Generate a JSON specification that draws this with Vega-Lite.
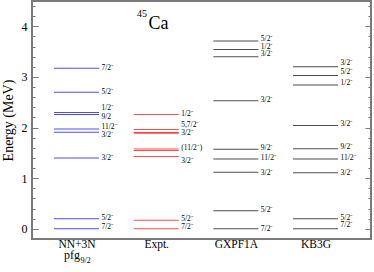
{
  "$schema": "https://vega.github.io/schema/vega-lite/v6.json",
  "width": 339,
  "height": 238,
  "autosize": "none",
  "padding": {"left": 32, "top": 1, "right": 3, "bottom": 33},
  "background": "white",
  "config": {
    "view": {"stroke": "#7a7a7a", "strokeWidth": 2},
    "axis": {"grid": false, "domain": false, "tickColor": "#7a7a7a", "tickWidth": 1, "labelFont": "Liberation Serif", "titleFont": "Liberation Serif", "labelColor": "#000000", "titleColor": "#000000", "titleFontWeight": "normal"},
    "text": {"font": "Liberation Serif"}
  },
  "datasets": {
    "levels": [
      {"col": 1, "model": "NN+3N", "E": 3.17},
      {"col": 1, "model": "NN+3N", "E": 2.70},
      {"col": 1, "model": "NN+3N", "E": 2.30},
      {"col": 1, "model": "NN+3N", "E": 2.26},
      {"col": 1, "model": "NN+3N", "E": 1.97},
      {"col": 1, "model": "NN+3N", "E": 1.91},
      {"col": 1, "model": "NN+3N", "E": 1.40},
      {"col": 1, "model": "NN+3N", "E": 0.20},
      {"col": 1, "model": "NN+3N", "E": 0.0},
      {"col": 2, "model": "Expt.", "E": 2.26},
      {"col": 2, "model": "Expt.", "E": 1.96},
      {"col": 2, "model": "Expt.", "E": 1.905},
      {"col": 2, "model": "Expt.", "E": 1.89},
      {"col": 2, "model": "Expt.", "E": 1.575},
      {"col": 2, "model": "Expt.", "E": 1.55},
      {"col": 2, "model": "Expt.", "E": 1.43},
      {"col": 2, "model": "Expt.", "E": 0.17},
      {"col": 2, "model": "Expt.", "E": 0.0},
      {"col": 3, "model": "GXPF1A", "E": 3.71},
      {"col": 3, "model": "GXPF1A", "E": 3.54},
      {"col": 3, "model": "GXPF1A", "E": 3.40},
      {"col": 3, "model": "GXPF1A", "E": 2.53},
      {"col": 3, "model": "GXPF1A", "E": 1.57},
      {"col": 3, "model": "GXPF1A", "E": 1.38},
      {"col": 3, "model": "GXPF1A", "E": 1.12},
      {"col": 3, "model": "GXPF1A", "E": 0.36},
      {"col": 3, "model": "GXPF1A", "E": 0.0},
      {"col": 4, "model": "KB3G", "E": 3.20},
      {"col": 4, "model": "KB3G", "E": 3.03},
      {"col": 4, "model": "KB3G", "E": 2.84},
      {"col": 4, "model": "KB3G", "E": 2.04},
      {"col": 4, "model": "KB3G", "E": 1.58},
      {"col": 4, "model": "KB3G", "E": 1.38},
      {"col": 4, "model": "KB3G", "E": 1.11},
      {"col": 4, "model": "KB3G", "E": 0.20},
      {"col": 4, "model": "KB3G", "E": 0.0}
    ],
    "labels": [
      {"col": 1, "E": 3.17, "text": "7/2⁻"},
      {"col": 1, "E": 2.70, "text": "5/2⁻"},
      {"col": 1, "E": 2.38, "text": "1/2⁻"},
      {"col": 1, "E": 2.21, "text": "9/2"},
      {"col": 1, "E": 2.01, "text": "11/2⁻"},
      {"col": 1, "E": 1.86, "text": "3/2⁻"},
      {"col": 1, "E": 1.40, "text": "3/2⁻"},
      {"col": 1, "E": 0.22, "text": "5/2⁻"},
      {"col": 1, "E": 0.03, "text": "7/2⁻"},
      {"col": 2, "E": 2.27, "text": "1/2⁻"},
      {"col": 2, "E": 2.05, "text": "5,7/2⁻"},
      {"col": 2, "E": 1.89, "text": "3/2⁻"},
      {"col": 2, "E": 1.59, "text": "(11/2⁻)"},
      {"col": 2, "E": 1.35, "text": "3/2⁻"},
      {"col": 2, "E": 0.20, "text": "5/2⁻"},
      {"col": 2, "E": 0.04, "text": "7/2⁻"},
      {"col": 3, "E": 3.75, "text": "5/2⁻"},
      {"col": 3, "E": 3.59, "text": "1/2⁻"},
      {"col": 3, "E": 3.45, "text": "3/2⁻"},
      {"col": 3, "E": 2.55, "text": "3/2⁻"},
      {"col": 3, "E": 1.59, "text": "9/2⁻"},
      {"col": 3, "E": 1.40, "text": "11/2⁻"},
      {"col": 3, "E": 1.11, "text": "3/2⁻"},
      {"col": 3, "E": 0.38, "text": "5/2⁻"},
      {"col": 3, "E": 0.0, "text": "7/2⁻"},
      {"col": 4, "E": 3.27, "text": "3/2⁻"},
      {"col": 4, "E": 3.10, "text": "5/2⁻"},
      {"col": 4, "E": 2.89, "text": "1/2⁻"},
      {"col": 4, "E": 2.07, "text": "3/2⁻"},
      {"col": 4, "E": 1.61, "text": "9/2⁻"},
      {"col": 4, "E": 1.40, "text": "11/2⁻"},
      {"col": 4, "E": 1.11, "text": "3/2⁻"},
      {"col": 4, "E": 0.22, "text": "5/2⁻"},
      {"col": 4, "E": 0.07, "text": "7/2⁻"}
    ],
    "notes": [
      {"col": 1.759, "E": 4.186, "text": "45", "kind": "sup"},
      {"col": 1.903, "E": 3.943, "text": "Ca", "kind": "big"},
      {"col": 0.843, "E": -0.59, "text": "pfg", "kind": "mid"},
      {"col": 1.05, "E": -0.665, "text": "9/2", "kind": "sub"}
    ]
  },
  "encoding": {
    "x": {
      "field": "col",
      "type": "quantitative",
      "scale": {"domain": [0.4414, 4.696], "nice": false, "zero": false},
      "axis": {
        "values": [1, 2, 3, 4],
        "labelExpr": "datum.value == 1 ? 'NN+3N' : datum.value == 2 ? 'Expt.' : datum.value == 3 ? 'GXPF1A' : 'KB3G'",
        "ticks": false,
        "tickSize": 0,
        "labelFont": "Liberation Serif",
        "labelFontSize": 11.5,
        "labelPadding": -1,
        "title": null
      }
    }
  },
  "layer": [
    {
      "data": {"name": "levels"},
      "mark": {"type": "tick", "orient": "horizontal", "size": 45, "thickness": 1},
      "encoding": {
        "y": {
          "field": "E", "type": "quantitative",
          "scale": {"domain": [-0.2, 4.5], "nice": false, "zero": false},
          "axis": {"orient": "left", "values": [0, 1, 2, 3, 4], "ticks": false, "tickSize": 0, "labelFont": "Liberation Serif", "labelFontSize": 12, "labelPadding": 5, "title": "Energy (MeV)", "titleFont": "Liberation Serif", "titleFontSize": 14, "titlePadding": 6}
        },
        "color": {
          "field": "model", "type": "nominal",
          "scale": {"domain": ["NN+3N", "Expt.", "GXPF1A", "KB3G"], "range": ["#0000ff", "#ff0000", "#000000", "#000000"]},
          "legend": null
        }
      }
    },
    {
      "data": {"name": "labels"},
      "mark": {"type": "text", "align": "left", "baseline": "middle", "dx": 25, "fontSize": 7.5, "font": "Liberation Serif", "color": "#000000"},
      "encoding": {
        "y": {
          "field": "E", "type": "quantitative",
          "scale": {"domain": [-0.2, 4.5], "nice": false, "zero": false},
          "axis": {"orient": "left", "values": [0, 1, 2, 3, 4], "tickSize": -6, "labels": false, "title": null}
        },
        "text": {"field": "text"}
      }
    },
    {
      "data": {"name": "notes"},
      "transform": [{"filter": "datum.kind == 'big'"}],
      "mark": {"type": "text", "align": "left", "baseline": "alphabetic", "fontSize": 18, "font": "Liberation Serif", "color": "#000000"},
      "encoding": {
        "y": {
          "field": "E", "type": "quantitative",
          "scale": {"domain": [-0.2, 4.5], "nice": false, "zero": false},
          "axis": {"orient": "left", "values": [0.2, 0.4, 0.6, 0.8, 1.2, 1.4, 1.6, 1.8, 2.2, 2.4, 2.6, 2.8, 3.2, 3.4, 3.6, 3.8, 4.2, 4.4], "tickSize": -3, "labels": false, "title": null}
        },
        "text": {"field": "text"}
      }
    },
    {
      "data": {"name": "notes"},
      "transform": [{"filter": "datum.kind == 'sup'"}],
      "mark": {"type": "text", "align": "left", "baseline": "alphabetic", "fontSize": 10, "font": "Liberation Serif", "color": "#000000"},
      "encoding": {
        "y": {
          "field": "E", "type": "quantitative",
          "scale": {"domain": [-0.2, 4.5], "nice": false, "zero": false},
          "axis": {"orient": "right", "values": [0, 1, 2, 3, 4], "tickSize": -6, "labels": false, "title": null}
        },
        "text": {"field": "text"}
      }
    },
    {
      "data": {"name": "notes"},
      "transform": [{"filter": "datum.kind == 'mid'"}],
      "mark": {"type": "text", "align": "left", "baseline": "alphabetic", "fontSize": 12, "font": "Liberation Serif", "color": "#000000"},
      "encoding": {
        "y": {
          "field": "E", "type": "quantitative",
          "scale": {"domain": [-0.2, 4.5], "nice": false, "zero": false},
          "axis": {"orient": "right", "values": [0.2, 0.4, 0.6, 0.8, 1.2, 1.4, 1.6, 1.8, 2.2, 2.4, 2.6, 2.8, 3.2, 3.4, 3.6, 3.8, 4.2, 4.4], "tickSize": -3, "labels": false, "title": null}
        },
        "text": {"field": "text"}
      }
    },
    {
      "data": {"name": "notes"},
      "transform": [{"filter": "datum.kind == 'sub'"}],
      "mark": {"type": "text", "align": "left", "baseline": "alphabetic", "fontSize": 8, "font": "Liberation Serif", "color": "#000000"},
      "encoding": {
        "y": {
          "field": "E", "type": "quantitative",
          "scale": {"domain": [-0.2, 4.5], "nice": false, "zero": false},
          "axis": null
        },
        "text": {"field": "text"}
      }
    }
  ],
  "resolve": {"axis": {"y": "independent"}}
}
